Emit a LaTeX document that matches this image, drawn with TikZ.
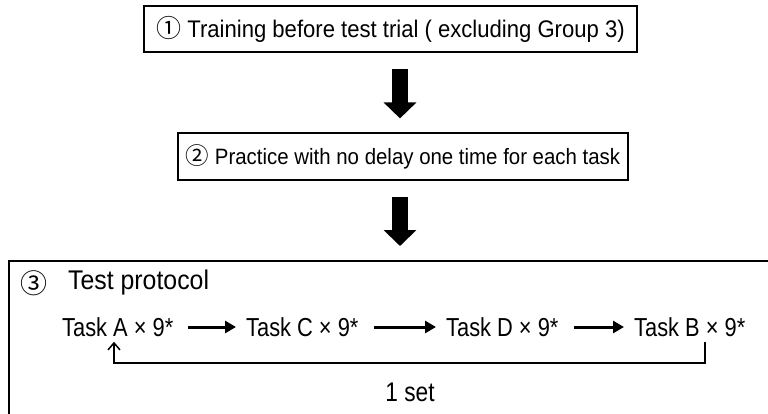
\documentclass[tikz,border=0pt]{standalone}
\usepackage{fontspec}
\setmainfont{Liberation Sans}
\newfontfamily\cjk{Noto Sans CJK JP}
\newfontfamily\narrowsans[FakeStretch=0.84]{Liberation Sans}
\newfontfamily\boxsans[FakeStretch=0.92]{Liberation Sans}
\usetikzlibrary{arrows.meta,calc}
\begin{document}
\begin{tikzpicture}[x=1pt,y=-1pt,
  box/.style={draw=black,line width=1.2pt,inner sep=0pt},
  bigarrow/.style={line width=16pt,-{Triangle[length=16pt,width=32pt]},shorten <=16pt,shorten >=14pt},
  flow/.style={line width=3pt,-{Triangle[length=11pt,width=12pt]},shorten <=15pt,shorten >=10pt},
  task/.style={font=\narrowsans\fontsize{26}{28}\selectfont,inner sep=0pt,anchor=west},
  loopline/.style={line width=1.5pt,-{Straight Barb[length=7pt,width=12pt]}}]
\useasboundingbox (0,0) rectangle (768,413);
\clip (0,0) rectangle (768,413);
\node[box,minimum width=493pt,minimum height=46pt,font=\boxsans\fontsize{24}{26}\selectfont] (b1) at (390.5,29)
  {{\cjk\fontsize{25}{26}\selectfont ①} Training before test trial ( excluding Group 3)};
\node[box,minimum width=450pt,minimum height=47pt,font=\boxsans\fontsize{22.2}{24}\selectfont] (b2) at (403,156.5)
  {{\cjk\fontsize{23.5}{26}\selectfont ②} Practice with no delay one time for each task};
\node[draw=black,line width=2pt,minimum width=800pt,minimum height=200pt,anchor=north west,inner sep=0pt] (b3) at (8,260) {};
\coordinate (ax) at (400,0);
\draw[bigarrow] (b1.south -| ax) -- (b2.north -| ax);
\draw[bigarrow] (b2.south -| ax) -- (b3.north -| ax);
\node[font=\cjk\fontsize{27}{28}\selectfont,inner sep=0pt] (n3) at (34,283) {③};
\node[font=\boxsans\fontsize{27}{30}\selectfont,inner sep=0pt,anchor=west] (hd) at (68,283) {Test protocol};
\node[task] (tA) at (62,327) {Task A × 9*};
\node[task] (tC) at (246,327) {Task C × 9*};
\node[task] (tD) at (446,327) {Task D × 9*};
\node[task] (tB) at (634,327) {Task B × 9*};
\draw[flow] (tA.east) -- (tC.west);
\draw[flow] (tC.east) -- (tD.west);
\draw[flow] (tD.east) -- (tB.west);
\coordinate (bB) at (705,0);
\coordinate (aA) at (114,0);
\draw[loopline] ($(tB.south -| bB)+(0,5)$) -- ++(0,21) -| ($(tA.south -| aA)+(0,5)$);
\node[font=\narrowsans\fontsize{27}{28}\selectfont,inner sep=0pt] (set) at (410,392) {1 set};
\end{tikzpicture}
\end{document}
